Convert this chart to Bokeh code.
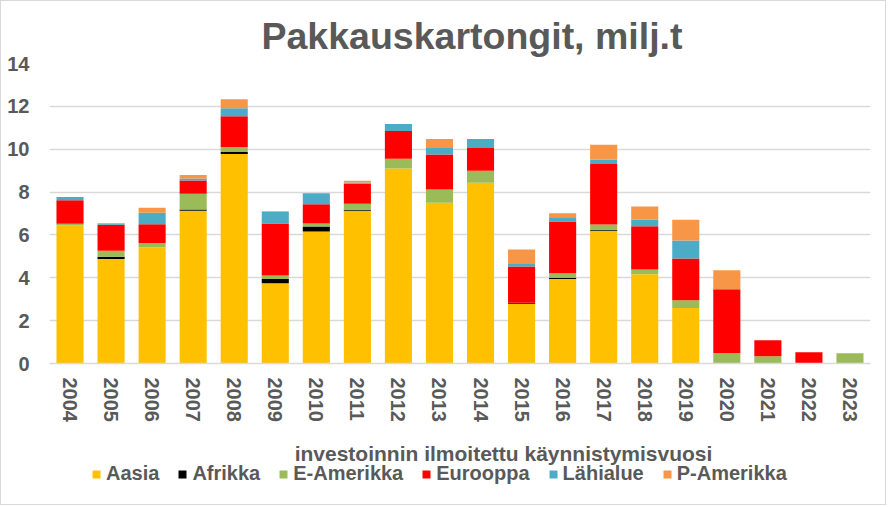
from bokeh.plotting import figure
from bokeh.layouts import column
from bokeh.models import (ColumnDataSource, FactorRange, Range1d, Legend, LegendItem,
                          SingleIntervalTicker, Title, Label)
from bokeh.embed import file_html
from bokeh.resources import INLINE

years = [str(y) for y in range(2004, 2024)]
regions = ["Aasia", "Afrikka", "E-Amerikka", "Eurooppa", "Lähialue", "P-Amerikka"]
colors = ["#FFC000", "#000000", "#9BBB59", "#FF0000", "#4BACC6", "#F79646"]

aasia = [6.45, 4.88, 5.43, 7.13, 9.78, 3.74, 6.16, 7.13, 9.10, 7.50, 8.43, 2.79, 3.94, 6.19, 4.16, 2.59, 0, 0, 0, 0]
afrikka = [0, 0.10, 0, 0.06, 0.09, 0.20, 0.23, 0.05, 0, 0, 0, 0.05, 0.05, 0.05, 0, 0, 0, 0, 0, 0]
e_amerikka = [0.07, 0.28, 0.19, 0.73, 0.23, 0.17, 0.14, 0.28, 0.45, 0.62, 0.56, 0, 0.22, 0.25, 0.23, 0.36, 0.49, 0.34, 0, 0.48]
eurooppa = [1.10, 1.22, 0.88, 0.62, 1.44, 2.42, 0.90, 0.93, 1.30, 1.63, 1.07, 1.69, 2.42, 2.82, 2.01, 1.95, 2.98, 0.75, 0.53, 0]
lahialue = [0.15, 0.05, 0.54, 0.09, 0.37, 0.54, 0.51, 0.06, 0.33, 0.31, 0.42, 0.11, 0.16, 0.20, 0.31, 0.84, 0, 0, 0, 0]
p_amerikka = [0, 0.03, 0.23, 0.17, 0.42, 0.03, 0, 0.08, 0, 0.42, 0, 0.68, 0.22, 0.70, 0.62, 0.97, 0.88, 0, 0, 0]

title_text = "Pakkauskartongit, milj.t"
x_title = "investoinnin ilmoitettu käynnistymisvuosi"

FONT = "Liberation Sans"
TXT = "#595959"
GRID = "#d9d9d9"
BORDER = "1px solid #d9d9d9"

source = ColumnDataSource(dict(year=years, Aasia=aasia, Afrikka=afrikka,
                               **{"E-Amerikka": e_amerikka, "Eurooppa": eurooppa,
                                  "Lähialue": lahialue, "P-Amerikka": p_amerikka}))

p = figure(x_range=FactorRange(*years), y_range=Range1d(0, 14),
           width=886, height=425, output_backend="svg", toolbar_location=None,
           min_border_left=48, min_border_right=17, min_border_top=62, min_border_bottom=63)
p.styles = {"border-top": BORDER, "border-left": BORDER, "border-right": BORDER}
p.outline_line_color = None
p.background_fill_color = "white"
p.border_fill_color = "white"

rs = p.vbar_stack(regions, x="year", width=0.66, color=colors, line_color=None, source=source)

p.xgrid.grid_line_color = None
p.ygrid.grid_line_color = GRID
p.ygrid.grid_line_width = 1.5

p.yaxis.ticker = SingleIntervalTicker(interval=2)
p.yaxis.axis_line_color = None
p.yaxis.major_tick_line_color = None
p.yaxis.minor_tick_line_color = None
p.yaxis.major_label_standoff = 14
for ax in (p.xaxis, p.yaxis):
    ax.major_label_text_font = FONT
    ax.major_label_text_font_size = "20px"
    ax.major_label_text_font_style = "bold"
    ax.major_label_text_color = TXT

p.xaxis.axis_line_color = GRID
p.xaxis.axis_line_width = 1.5
p.xaxis.major_tick_line_color = None
p.xaxis.minor_tick_line_color = None
p.xaxis.major_label_orientation = "vertical"
p.xaxis.major_label_standoff = 8

t = Title(text=title_text, align="left", offset=212, text_font=FONT, text_font_size="37.5px",
          text_font_style="bold", text_color=TXT, standoff=14)
p.add_layout(t, "above")

# lower strip: axis title + legend (same series as legend glyphs, renderers hidden)
p2 = figure(x_range=p.x_range, y_range=Range1d(0, 80), width=886, height=80,
            output_backend="svg", toolbar_location=None, x_axis_location=None,
            y_axis_location=None, min_border=0, min_border_left=0, min_border_right=0,
            min_border_top=0, min_border_bottom=0)
p2.styles = {"border-bottom": BORDER, "border-left": BORDER, "border-right": BORDER}
p2.outline_line_color = None
p2.xgrid.grid_line_color = None
p2.ygrid.grid_line_color = None
p2.background_fill_color = "white"
p2.border_fill_color = "white"
lrs = p2.vbar_stack(regions, x="year", width=0.66, color=colors, line_color=None, source=source)
for r in lrs:
    r.visible = False

xl = Label(x=11.06, y=52, text=x_title, text_font=FONT, text_font_size="21px",
           text_font_style="bold", text_color=TXT, text_align="center", text_baseline="middle")
p2.add_layout(xl)

legend = Legend(items=[LegendItem(label=r, renderers=[rr]) for r, rr in zip(regions, lrs)],
                orientation="horizontal", location=(42, 20), click_policy="none",
                label_text_font=FONT, label_text_font_size="20px", label_text_font_style="bold",
                label_text_color=TXT, glyph_width=10, glyph_height=10, label_standoff=5,
                spacing=18, padding=0, margin=0, border_line_color=None,
                background_fill_alpha=0)
p2.add_layout(legend, "center")

layout = column(p, p2, spacing=0)
open("out.html", "w").write(file_html(layout, INLINE))
